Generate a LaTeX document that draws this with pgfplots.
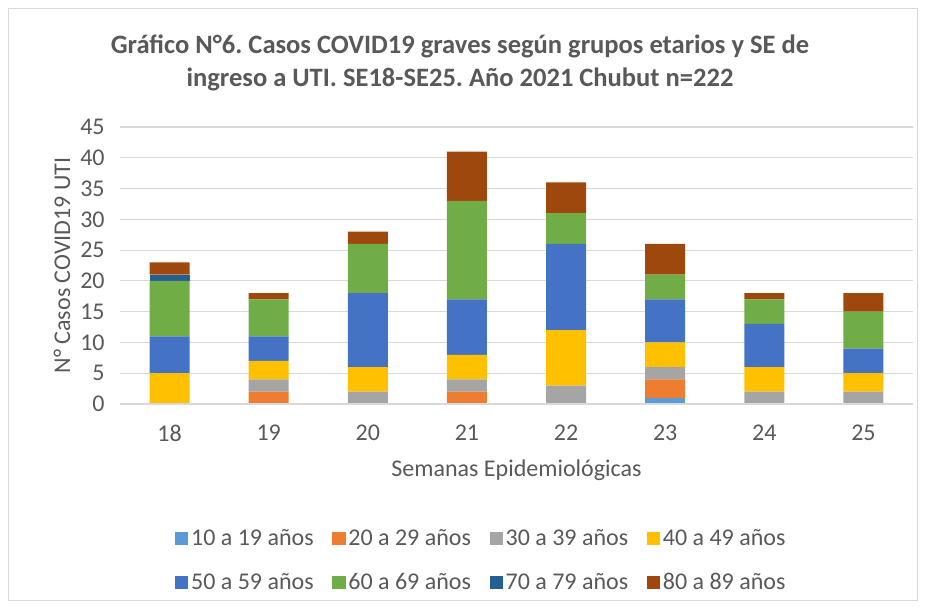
\documentclass[border=0pt]{standalone}
\usepackage{pgfplots}
\pgfplotsset{compat=1.18}
\usepackage{fontspec}
\setmainfont{Carlito}
\frenchspacing
\definecolor{txt}{HTML}{595959}
\definecolor{gridc}{HTML}{D9D9D9}
\definecolor{cA}{HTML}{5B9BD5}
\definecolor{cB}{HTML}{ED7D31}
\definecolor{cC}{HTML}{A5A5A5}
\definecolor{cD}{HTML}{FFC000}
\definecolor{cE}{HTML}{4472C4}
\definecolor{cF}{HTML}{70AD47}
\definecolor{cG}{HTML}{255E91}
\definecolor{cH}{HTML}{9E480E}
\begin{document}
\begin{tikzpicture}[x=0.75pt,y=0.75pt]
% page size in pixel units, origin at axis lower-left
\path[use as bounding box] (-120,-206) rectangle (805,404);
\draw[gridc,line width=0.75pt,fill=white] (-111,-197) rectangle (797,395);
\begin{axis}[
  at={(0,0)}, anchor=south west,
  scale only axis,
  width=594.75pt, height=207.75pt,
  ybar stacked, bar width=30pt,
  xmin=17.5, xmax=25.5, ymin=0, ymax=45,
  xtick={18,...,25}, ytick={0,5,...,45},
  ymajorgrids, grid style={gridc,line width=0.9pt},
  axis line style={draw=none},
  major tick length=0pt,
  tick label style={font=\fontsize{18}{21}\selectfont,text=txt},
  /pgf/number format/assume math mode=true,
  yticklabel style={xshift=-8pt},
  xticklabel style={yshift=-12pt},
  xlabel={Semanas Epidemiológicas},
  xlabel style={font=\fontsize{18}{21}\selectfont,text=txt,
    at={(axis description cs:0.5,-0.238)},anchor=center},
  ylabel={N° Casos COVID19 UTI},
  ylabel style={font=\fontsize{18}{21}\selectfont,text=txt,
    at={(axis description cs:-0.073,0.5)},anchor=center},
  legend columns=4,
  legend style={at={(0.456,-0.565)},anchor=center,draw=none,fill=none,
    font=\fontsize{18}{21}\selectfont,text=txt,
    /tikz/every even column/.append style={column sep=12pt},
    row sep=15pt},
  legend image code/.code={\fill[#1] (0pt,-5pt) rectangle (10pt,5pt);},
  every axis plot/.append style={draw=none},
]
\addplot[fill=cA] coordinates {(18,0) (19,0) (20,0) (21,0) (22,0) (23,1) (24,0) (25,0)};
\addplot[fill=cB] coordinates {(18,0) (19,2) (20,0) (21,2) (22,0) (23,3) (24,0) (25,0)};
\addplot[fill=cC] coordinates {(18,0) (19,2) (20,2) (21,2) (22,3) (23,2) (24,2) (25,2)};
\addplot[fill=cD] coordinates {(18,5) (19,3) (20,4) (21,4) (22,9) (23,4) (24,4) (25,3)};
\addplot[fill=cE] coordinates {(18,6) (19,4) (20,12) (21,9) (22,14) (23,7) (24,7) (25,4)};
\addplot[fill=cF] coordinates {(18,9) (19,6) (20,8) (21,16) (22,5) (23,4) (24,4) (25,6)};
\addplot[fill=cG] coordinates {(18,1) (19,0) (20,0) (21,0) (22,0) (23,0) (24,0) (25,0)};
\addplot[fill=cH] coordinates {(18,2) (19,1) (20,2) (21,8) (22,5) (23,5) (24,1) (25,3)};
\legend{10 a 19 años,20 a 29 años,30 a 39 años,40 a 49 años,50 a 59 años,60 a 69 años,70 a 79 años,80 a 89 años}
\end{axis}
\draw[gridc,line width=0.9pt] (0,0) -- (793,0);
\node[font=\bfseries\fontsize{19.9}{25}\selectfont,text=txt,align=center] at (340,341) {Gráfico N°6. Casos COVID19 graves según grupos etarios y SE de\\ingreso a UTI. SE18-SE25. Año 2021 Chubut n=222};
\end{tikzpicture}
\end{document}
